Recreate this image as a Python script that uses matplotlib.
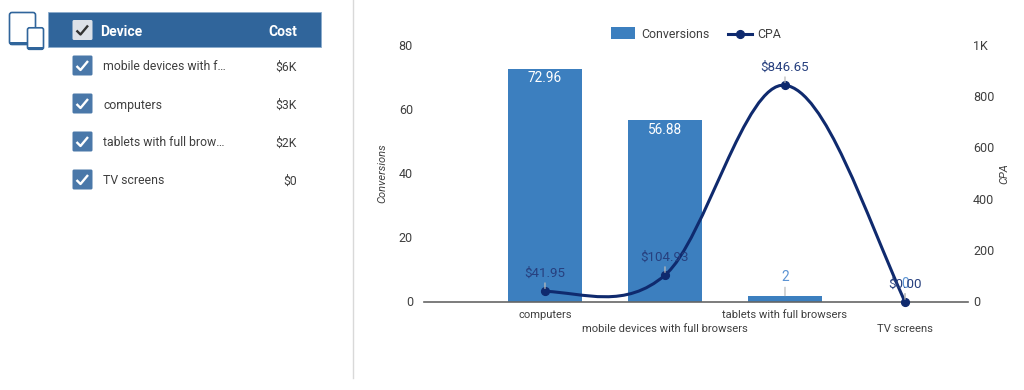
import numpy as np
import matplotlib
matplotlib.use("Agg")
import matplotlib.pyplot as plt
from matplotlib.patches import FancyBboxPatch, Rectangle, PathPatch
from matplotlib.path import Path
from matplotlib.transforms import ScaledTranslation

plt.rcParams['font.family'] = ['Roboto', 'DejaVu Sans']

categories = ['computers', 'mobile devices with full browsers', 'tablets with full browsers', 'TV screens']
conversions = [72.96, 56.88, 2, 0]
conversion_labels = ['72.96', '56.88', '2', '0']
cpa = [41.95, 104.93, 846.65, 0]
cpa_labels = ['$41.95', '$104.93', '$846.65', '$0.00']
left_ticks = [0, 20, 40, 60, 80]
right_ticks = [0, 200, 400, 600, 800, 1000]
right_tick_labels = ['0', '200', '400', '600', '800', '1K']
table_devices = ['mobile devices with f…', 'computers', 'tablets with full brow…', 'TV screens']
table_costs = ['$6K', '$3K', '$2K', '$0']

BAR = '#3c7fbf'
LINE = '#0f2a6e'
HEAD = '#30659b'
CHECK = '#4a78a9'
TXT = '#3f3f3f'
W, H = 1024, 390

fig = plt.figure(figsize=(W / 100, H / 100), dpi=100, facecolor='white')

# overlay in pixel coordinates for the table, icon and divider
ov = fig.add_axes([0, 0, 1, 1])
ov.set_xlim(0, W)
ov.set_ylim(H, 0)
ov.axis('off')

ov.plot([353, 353], [0, 378], color='#d9d9d9', lw=1)
ov.add_patch(Rectangle((48, 11.5), 273, 35.5, fc=HEAD, ec='#8aaccc', lw=0.6))


def checkbox(y, face, tick):
    ov.add_patch(FancyBboxPatch((72.5, y - 10), 20, 20, boxstyle='round,pad=0,rounding_size=1.5',
                                fc=face, ec='none'))
    ov.plot([76.5, 80.5, 88], [y + 0.5, y + 4.5, y - 4.5], color=tick, lw=1.7, solid_capstyle='butt')


checkbox(30, '#dde1e8', '#333333')
ov.text(100.5, 30, 'Device', color='white', fontsize=10, fontweight='bold', va='center_baseline')
ov.text(297, 30, 'Cost', color='white', fontsize=10, fontweight='bold', va='center_baseline', ha='right')
for i, (d, c) in enumerate(zip(table_devices, table_costs)):
    y = 65.5 + i * 38
    checkbox(y, CHECK, 'white')
    ov.text(103, y, d, color=TXT, fontsize=8.8, va='center_baseline')
    ov.text(297, y, c, color=TXT, fontsize=8.8, va='center_baseline', ha='right')

# device icon
ov.add_patch(FancyBboxPatch((9.5, 12.5), 26, 32, boxstyle='round,pad=0,rounding_size=2.5',
                            fc='white', ec=HEAD, lw=1.2))
ov.add_patch(Rectangle((10, 41.8), 25, 3, fc=HEAD, ec='none'))
ov.add_patch(FancyBboxPatch((27.5, 27.8), 16, 21.5, boxstyle='round,pad=0,rounding_size=2',
                            fc='white', ec=HEAD, lw=1.2))
ov.add_patch(Rectangle((28, 47), 15, 3, fc=HEAD, ec='none'))

# axis titles and legend, placed in pixels
ov.text(382, 173, 'Conversions', fontsize=8, style='italic', color=TXT, rotation=90, ha='center', va='center')
ov.text(1004, 174, 'CPA', fontsize=8, style='italic', color=TXT, rotation=90, ha='center', va='center')
ov.add_patch(Rectangle((611, 27), 24, 12, fc=BAR, ec='none'))
ov.text(641, 33, 'Conversions', fontsize=8.9, color=TXT, va='center_baseline')
ov.plot([728, 752], [33.5, 33.5], color=LINE, lw=2.2)
ov.plot([740], [33.5], 'o', color=LINE, ms=5.6)
ov.text(757, 33, 'CPA', fontsize=8.9, color=TXT, va='center_baseline')

# chart
x0, x1, ytop, ybot = 424, 968, 46, 302
ax = fig.add_axes([x0 / W, 1 - ybot / H, (x1 - x0) / W, (ybot - ytop) / H])
ax.patch.set_alpha(0)
xpos = np.arange(len(categories))
ax.set_xlim(-1.008, 3.525)
ax.set_ylim(0, 80)
ax.bar(xpos, conversions, width=0.62, color=BAR, zorder=2)
for s in ax.spines.values():
    s.set_visible(False)
ax.spines['bottom'].set_visible(True)
ax.spines['bottom'].set_color('#666666')
ax.spines['bottom'].set_linewidth(1.2)
ax.spines['bottom'].set_zorder(3)
ax.set_yticks(left_ticks)
ax.tick_params(axis='y', length=0, labelsize=9, labelcolor=TXT, pad=8)

# category labels staggered over two rows
ax.set_xticks(xpos)
ax.set_xticklabels([])
ax.tick_params(axis='x', length=0)
for i, c in zip(xpos, categories):
    ax.annotate(c, (i, 0), xycoords=ax.get_xaxis_transform(),
                xytext=(0, -9.4 if i % 2 == 0 else -19.6), textcoords='offset points',
                ha='center', va='center', fontsize=8.1, color=TXT, annotation_clip=False)

ax2 = ax.twinx()
ax2.patch.set_alpha(0)
ax2.set_ylim(0, 1000)
ax2.set_yticks(right_ticks)
ax2.set_yticklabels(right_tick_labels)
ax2.tick_params(axis='y', length=0, labelsize=9, labelcolor=TXT, pad=3.6)
for s in ax2.spines.values():
    s.set_visible(False)

nudge = ScaledTranslation(0, 1 / 100, fig.dpi_scale_trans)
for lab in ax.get_yticklabels() + ax2.get_yticklabels():
    lab.set_transform(lab.get_transform() + nudge)

# smooth curve through the CPA points (cubic Hermite segments)
pts = np.array(cpa, float)
tan = np.zeros_like(pts)
tan[1:-1] = (pts[2:] - pts[:-2]) / 2
tan[0] = ((pts[1] - pts[0]) + (3 * (pts[1] - pts[0]) - tan[1]) / 2) / 2
tan[-1] = ((pts[-1] - pts[-2]) + (3 * (pts[-1] - pts[-2]) - tan[-2]) / 2) / 2
verts = [(xpos[0], pts[0])]
codes = [Path.MOVETO]
for i in range(len(pts) - 1):
    verts += [(xpos[i] + 1 / 3, pts[i] + tan[i] / 3),
              (xpos[i + 1] - 1 / 3, pts[i + 1] - tan[i + 1] / 3),
              (xpos[i + 1], pts[i + 1])]
    codes += [Path.CURVE4] * 3
ax2.add_patch(PathPatch(Path(verts, codes), fc='none', ec=LINE, lw=2.2, zorder=5, clip_on=False))
ax2.plot(xpos, pts, 'o', color=LINE, ms=5.6, zorder=6, clip_on=False)

# data labels with leader lines
for i, (v, lab) in enumerate(zip(conversions, conversion_labels)):
    if v > 10:
        ax.annotate(lab, (i, v), xytext=(0, -2), textcoords='offset points', ha='center', va='top',
                    color='white', fontsize=9.8, zorder=7)
    else:
        ax.annotate(lab, (i, v), xytext=(0, 8), textcoords='offset points', ha='center', va='bottom',
                    color='#5b93d3', fontsize=9.8, zorder=7,
                    arrowprops=dict(arrowstyle='-', color='#bbbbbb', lw=0.9, shrinkA=0, shrinkB=0))
for i, (v, lab) in enumerate(zip(cpa, cpa_labels)):
    ax2.annotate(lab, (i, v), xytext=(0, 8), textcoords='offset points', ha='center', va='bottom',
                 color='#27407f', fontsize=9.6, zorder=8,
                 arrowprops=dict(arrowstyle='-', color='#bbbbbb', lw=0.9, shrinkA=0, shrinkB=2))

fig.savefig('out.png', dpi=100)
